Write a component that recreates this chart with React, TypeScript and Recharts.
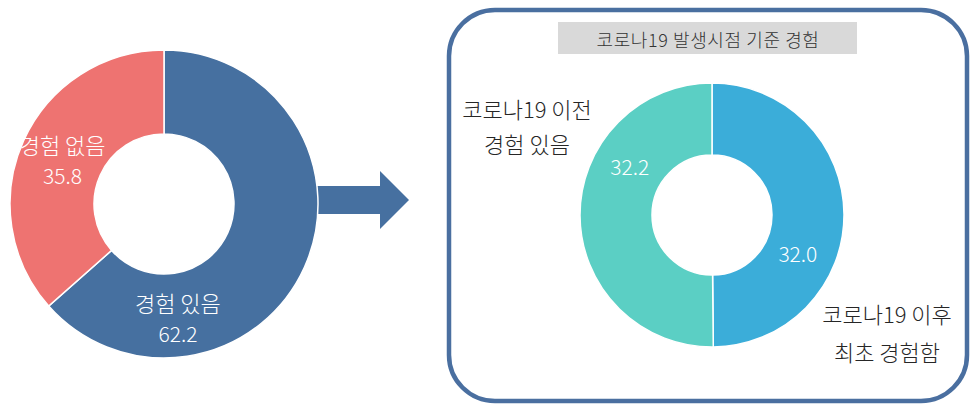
import { PieChart, Pie, Cell, Customized } from "recharts";

// 코로나19 경험 여부 (전체)
const expNames = ["경험 있음", "경험 없음"];
const expValues = [62.2, 35.8];
const expColors = ["#4670a0", "#ee7371"];

// 코로나19 발생시점 기준 경험
const timingNames = [
  ["코로나19 이후", "최초 경험함"],
  ["코로나19 이전", "경험 있음"],
];
const timingValues = [32.0, 32.2];
const timingColors = ["#3badd9", "#5bcfc4"];

const panelTitle = "코로나19 발생시점 기준 경험";

const W = 971;
const H = 405;
const FONT = "'Noto Sans CJK KR', 'Noto Sans', sans-serif";

// label placement: clock angle (deg, clockwise from 12 o'clock) + radius
const EXP_LABEL_POS = [
  { angle: 173, r: 114 },
  { angle: 294, r: 111 },
];
const TIMING_LABEL_POS = [
  { angle: 114, r: 94 },
  { angle: 301, r: 96 },
];
// category names outside the right donut, offset from its centre
const TIMING_NAME_OFFSET = [
  { dx: 175, dy: 117, gap: 19 },
  { dx: -185, dy: -90, gap: 17.5 },
];

const expData = expValues.map((v, i) => ({ name: expNames[i], value: v }));
const timingData = timingValues.map((v, i) => ({
  name: timingNames[i].join(" "),
  value: v,
}));

function polar(cx: number, cy: number, r: number, angle: number) {
  const a = (angle * Math.PI) / 180;
  return { x: cx + r * Math.sin(a), y: cy - r * Math.cos(a) };
}

function ExpLabel(props: any) {
  const { cx, cy, index } = props;
  const pos = EXP_LABEL_POS[index];
  const p = polar(cx, cy, pos.r, pos.angle);
  return (
    <g>
      <text
        x={p.x}
        y={p.y - 15}
        textAnchor="middle"
        dominantBaseline="central"
        fill="#fff"
        fontSize={22}
        fontWeight={300}
        fontFamily={FONT}
      >
        {expNames[index]}
      </text>
      <text
        x={p.x}
        y={p.y + 16}
        textAnchor="middle"
        dominantBaseline="central"
        fill="#fff"
        fontSize={21}
        fontWeight={300}
        fontFamily={FONT}
      >
        {expValues[index].toFixed(1)}
      </text>
    </g>
  );
}

function TimingLabel(props: any) {
  const { cx, cy, index } = props;
  const pos = TIMING_LABEL_POS[index];
  const p = polar(cx, cy, pos.r, pos.angle);
  const off = TIMING_NAME_OFFSET[index];
  const lines = timingNames[index];
  return (
    <g>
      <text
        x={p.x}
        y={p.y}
        textAnchor="middle"
        dominantBaseline="central"
        fill="#fff"
        fontSize={21}
        fontWeight={300}
        fontFamily={FONT}
      >
        {timingValues[index].toFixed(1)}
      </text>
      {lines.map((line, k) => (
        <text
          key={k}
          x={cx + off.dx}
          y={cy + off.dy + (k === 0 ? -off.gap : off.gap)}
          textAnchor="middle"
          dominantBaseline="central"
          fill="#262626"
          fontSize={22}
          fontWeight={300}
          fontFamily={FONT}
        >
          {line}
        </text>
      ))}
    </g>
  );
}

function Decorations() {
  return (
    <g>
      <polygon
        points="300,186 380,186 380,171 409,200 380,229 380,214 300,214"
        fill="#4670a0"
      />
      <rect
        x={449}
        y={10}
        width={518}
        height={391}
        rx={46}
        ry={46}
        fill="none"
        stroke="#4a6fa0"
        strokeWidth={4.5}
      />
      <rect x={558} y={22} width={299} height={32} fill="#d9d9d9" />
      <text
        x={708}
        y={39}
        textAnchor="middle"
        dominantBaseline="central"
        fill="#333"
        fontSize={18}
        fontWeight={300}
        letterSpacing={0.6}
        fontFamily={FONT}
      >
        {panelTitle}
      </text>
    </g>
  );
}

export default function App() {
  return (
    <div style={{ position: "absolute", left: 0, top: 0, background: "#fff" }}>
      <PieChart width={W} height={H} margin={{ top: 0, right: 0, bottom: 0, left: 0 }}>
        <Customized component={Decorations} />
        <Pie
          data={expData}
          dataKey="value"
          cx={164}
          cy={204}
          innerRadius={70}
          outerRadius={154}
          startAngle={90}
          endAngle={-270}
          stroke="#fff"
          strokeWidth={1.5}
          label={ExpLabel}
          labelLine={false}
          isAnimationActive={false}
        >
          {expData.map((d, i) => (
            <Cell key={d.name} fill={expColors[i]} />
          ))}
        </Pie>
        <Pie
          data={timingData}
          dataKey="value"
          cx={712}
          cy={215}
          innerRadius={60}
          outerRadius={132}
          startAngle={90}
          endAngle={-270}
          stroke="#fff"
          strokeWidth={1.5}
          label={TimingLabel}
          labelLine={false}
          isAnimationActive={false}
        >
          {timingData.map((d, i) => (
            <Cell key={d.name} fill={timingColors[i]} />
          ))}
        </Pie>
      </PieChart>
    </div>
  );
}
